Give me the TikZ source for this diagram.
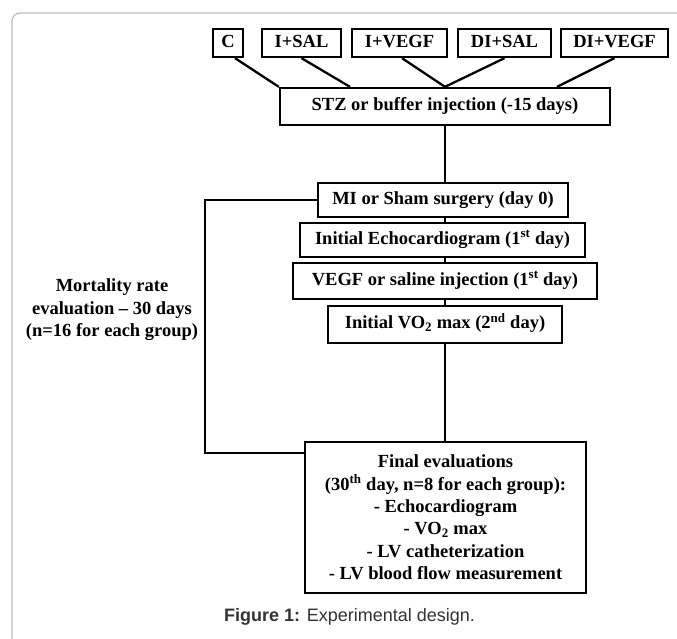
\documentclass[tikz,border=0pt]{standalone}
\usepackage{fontspec}
\setmainfont{Liberation Serif}
\newfontfamily\capfont{Liberation Sans}
\usetikzlibrary{calc}
\definecolor{framegray}{HTML}{BBBBBB}
\definecolor{captext}{HTML}{333333}
\begin{document}
\begin{tikzpicture}[x=1pt,y=-1pt,
  box/.style={draw, line width=2.3pt, inner sep=0pt, align=center,
    font=\fontsize{18.5}{22.4}\selectfont\bfseries},
  onebox/.style={box, text height=13pt, text depth=4.5pt},
  link/.style={line width=2.3pt},
  plain/.style={align=center, inner sep=0pt, font=\fontsize{18.5}{22.5}\selectfont\bfseries}]
\useasboundingbox (0,0) rectangle (677,639);
\begin{scope}
  \clip (0,0) rectangle (677,639);
  \draw[framegray, line width=1.2pt, rounded corners=8pt] (12,13) rectangle (700,670);
\end{scope}
% top group boxes
\node[onebox, minimum width=30pt, minimum height=28pt] (c) at (228,43) {C};
\node[onebox, minimum width=79pt, minimum height=28pt] (isal) at (301.5,43) {I+SAL};
\node[onebox, minimum width=95pt, minimum height=28pt] (ivegf) at (399.5,43) {I+VEGF};
\node[onebox, minimum width=93pt, minimum height=28pt] (disal) at (504.5,43) {DI+SAL};
\node[onebox, minimum width=107pt, minimum height=28pt] (divegf) at (614.5,43) {DI+VEGF};
% main chain
\node[onebox, minimum width=330pt, minimum height=37pt] (stz) at (445,106.5) {STZ or buffer injection (-15 days)};
\node[onebox, minimum width=250pt, minimum height=34pt] (mi) at (443,200) {MI or Sham surgery (day 0)};
\node[onebox, minimum width=285pt, minimum height=34pt] (echo) at (442.5,240) {Initial Echocardiogram (1\textsuperscript{st} day)};
\node[onebox, minimum width=304pt, minimum height=36pt] (vegf) at (445,281) {VEGF or saline injection (1\textsuperscript{st} day)};
\node[onebox, minimum width=234pt, minimum height=37pt] (vo) at (445,324.5) {Initial VO\textsubscript{2} max (2\textsuperscript{nd} day)};
\node[box, minimum width=281pt, minimum height=151pt] (final) at (445.5,517.5) {Final evaluations\\(30\textsuperscript{th} day, n=8 for each group):\\- Echocardiogram\\- VO\textsubscript{2} max\\- LV catheterization\\- LV blood flow measurement};
% side label
\node[plain] (mort) at (112,310) {Mortality rate\\evaluation -- 30 days\\(n=16 for each group)};
% caption
\node[inner sep=0pt, text=captext, font=\capfont\fontsize{18}{21}\selectfont] (cap) at (349.5,617) {\textbf{Figure 1:} Experimental design.};
% connectors from groups
\draw[link] ([xshift=7pt]c.south) -- (stz.north west);
\draw[link] (isal.south) -- ([xshift=-95pt]stz.north);
\draw[link] ([xshift=2.5pt]ivegf.south) -- (stz.north);
\draw[link] (disal.south) -- (stz.north);
\draw[link] (divegf.south) -- ([xshift=112pt]stz.north);
% vertical chain
\draw[link] (stz.south) -- (stz.south |- mi.north);
\draw[link] (stz.south |- mi.south) -- (stz.south |- echo.north);
\draw[link] (stz.south |- echo.south) -- (stz.south |- vegf.north);
\draw[link] (stz.south |- vegf.south) -- (stz.south |- vo.north);
\draw[link] (vo.south) -- (vo.south |- final.north);
% bracket
\coordinate (bx) at (205,0);
\coordinate (bb) at ([yshift=-12pt]final.north west);
\draw[link] (mi.west) -- (mi.west -| bx) -- (bx |- bb) -- (bb);
\end{tikzpicture}
\end{document}
